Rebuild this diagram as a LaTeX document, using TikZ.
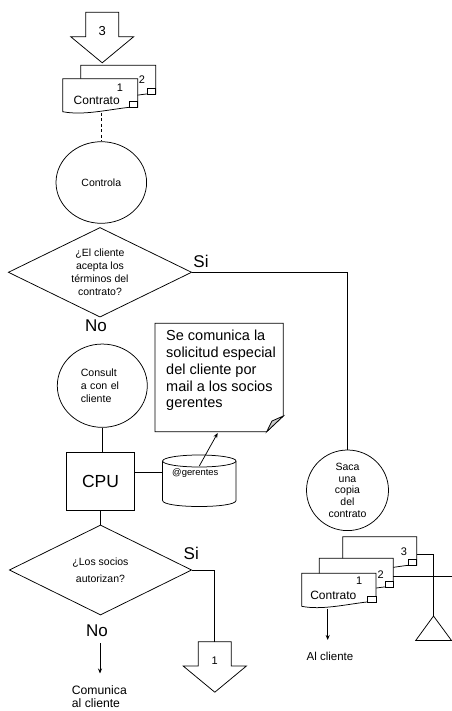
\documentclass[tikz,border=0pt]{standalone}
\usepackage{fontspec}
\setmainfont{Liberation Sans}
\usetikzlibrary{shapes.geometric,arrows.meta}

\newcommand\fs[2]{\fontsize{#1}{#2}\selectfont}

% document shape: name, x, y (top-left), width
\newcommand\contdoc[4]{%
\begin{scope}[shift={(#2,#3)}]
\draw[ln, fill=white] (0,0) -- (#4,0) -- (#4,28.6) -- ({#4-8.4},28.6)
  .. controls ({#4*0.6},31) and ({#4*0.27},37) .. (0,33) -- cycle;
\draw[ln, fill=white] ({#4-8.4},23) rectangle (#4,28.6);
\coordinate (#1-e) at (#4,18);
\end{scope}}

% off-page connector: name, centre x, top y
\newcommand\offpage[3]{%
\draw[ln, fill=white] ({#2-16.5},#3) -- ({#2+16.5},#3) -- ({#2+16.5},{#3+24.4})
  -- ({#2+31.5},{#3+24.4}) -- (#2,{#3+50.5}) -- ({#2-31.5},{#3+24.4})
  -- ({#2-16.5},{#3+24.4}) -- cycle;
\coordinate (#1-n) at (#2,#3);}

\begin{document}
\begin{tikzpicture}[x=1pt,y=-1pt,
  ln/.style={line width=0.75pt, draw=black},
  proc/.style={ellipse, ln, inner sep=0pt, align=center},
  dec/.style={diamond, ln, inner sep=0pt, aspect=2, align=center},
  big/.style={inner sep=0pt, font=\fs{17}{19}},
  num/.style={inner sep=0pt, font=\fs{11}{12}},
  lbl/.style={inner sep=0pt},
  arr/.style={ln, -{Stealth[length=5pt,width=4pt]}}]
\useasboundingbox (0,0) rectangle (451,711);

% ---- top connector and contract stack
\offpage{c3}{102.2}{12.3}
\node[lbl, font=\fs{13}{14}] (c3l) at (102.2,31.5) {3};
\contdoc{td2}{80.7}{65.3}{75}
\contdoc{td1}{62.7}{78.7}{75}
\node[num] (td2n) at (142,80) {2};
\node[num] (td1n) at (120,87.5) {1};
\node[lbl, font=\fs{12}{13}] (td1c) at (96.7,100.5) {Contrato};
\coordinate (td1s) at (101.3,113);

% ---- Controla
\node[proc, minimum width=90.6pt, minimum height=81.6pt, font=\fs{10.5}{12}] (ctrl) at (101.3,182.5) {Controla};
\draw[ln, dash pattern=on 3pt off 2.5pt] (td1s) -- (ctrl.north);

% ---- decision 1
\node[dec, minimum width=183.4pt, minimum height=89.6pt, font=\fs{10.5}{13}] (dec1) at (100,272.3)
  {¿El cliente\\acepta los\\términos del\\contrato?};
\node[big] (si1) at (201,261) {Si};
\node[big] (no1) at (96,326) {No};

% ---- Consulta
\node[proc, minimum width=90pt, minimum height=83.3pt, text width=43pt, align=left, font=\fs{10.6}{12.9}] (cons) at (102.3,385.7)
  {Consult\\a con el\\cliente};

% ---- note
\draw[ln, fill=white] (155,323.3) -- (283.3,323.3) -- (283.3,416) -- (266.7,431.7) -- (155,431.7) -- cycle;
\draw[ln, fill=gray!40] (283.3,416) -- (266.7,431.7) -- (272,421) -- cycle;
\node[lbl, anchor=west, align=left, font=\fs{14.5}{16.8}] (note) at (166,370.5)
  {Se comunica la\\solicitud especial\\del cliente por\\mail a los socios\\gerentes};
\coordinate (noteb) at (217.7,433);

% ---- CPU
\node[rectangle, ln, minimum width=67.6pt, minimum height=57.3pt, inner sep=0pt, font=\fs{17.5}{19}] (cpu) at (100.5,481.3) {CPU};

% ---- database cylinder
\draw[ln, fill=white] (162.6,461) -- (162.6,500.5) .. controls (162.6,508.5) and (236,508.5) .. (236,500.5) -- (236,461);
\draw[ln, fill=white] (199.3,461) ellipse [x radius=36.7pt, y radius=6pt];
\node[lbl, font=\fs{9.4}{11}] (dbl) at (195.3,473.5) {@gerentes};
\coordinate (dbw) at (162.6,472.3);
\coordinate (dbt) at (199.3,466);

\draw[ln] (cons.south) -- (cons.south |- cpu.north);
\draw[ln] (cpu.east |- dbw) -- (dbw);
\draw[arr] (dbt) -- (noteb);

% ---- decision 2
\node[dec, minimum width=182.4pt, minimum height=90pt, font=\fs{10.5}{16.5}] (dec2) at (100.5,570)
  {¿Los socios\\autorizan?};
\draw[ln] (cpu.south) -- (dec2.north);
\node[big] (si2) at (191.3,553.3) {Si};
\node[big] (no2) at (97,630.8) {No};
\coordinate (noarr) at (100,643.3);
\coordinate (comarr) at (100,673.5);
\draw[arr] (noarr) -- (comarr);
\node[lbl, anchor=west, align=left, font=\fs{12.2}{13.2}] (com) at (71.7,697) {Comunica\\al cliente};

\offpage{c1}{214.8}{641.7}
\node[lbl, font=\fs{11}{12}] (c1l) at (214.8,660.7) {1};
\draw[ln] (dec2.east) -| (c1-n);

% ---- Saca una copia
\node[proc, minimum width=82pt, minimum height=80.6pt, font=\fs{10.5}{11.8}] (saca) at (347.5,490.3)
  {Saca\\una\\copia\\del\\contrato};
\draw[ln] (dec1.east) -- (dec1.east -| saca.north) -- (saca.north);

% ---- right contract stack
\contdoc{rd3}{342.7}{536.7}{74}
\contdoc{rd2}{319.3}{558.3}{74}
\contdoc{rd1}{301.7}{573.3}{74.3}
\node[num] (rd3n) at (404,551.7) {3};
\node[num] (rd2n) at (380.7,575) {2};
\node[num] (rd1n) at (359.3,580.5) {1};
\node[lbl, font=\fs{12}{13}] (rd1c) at (333.3,595.5) {Contrato};

\coordinate (rd1s) at (327.7,608.8);
\coordinate (alcarr) at (327.7,640);
\draw[arr] (rd1s) -- (alcarr);
\node[lbl, font=\fs{11.5}{13}] (alc) at (330,656.7) {Al cliente};

\draw[ln, fill=white] (433.5,616) -- (451.5,640.5) -- (415.7,640.5) -- cycle;
\coordinate (trin) at (433.5,616);
\draw[ln] (rd3-e) -| (trin);
\coordinate (rd2end) at (452,576.3);
\draw[ln] (rd2-e) -- (rd2end);
\end{tikzpicture}
\end{document}
